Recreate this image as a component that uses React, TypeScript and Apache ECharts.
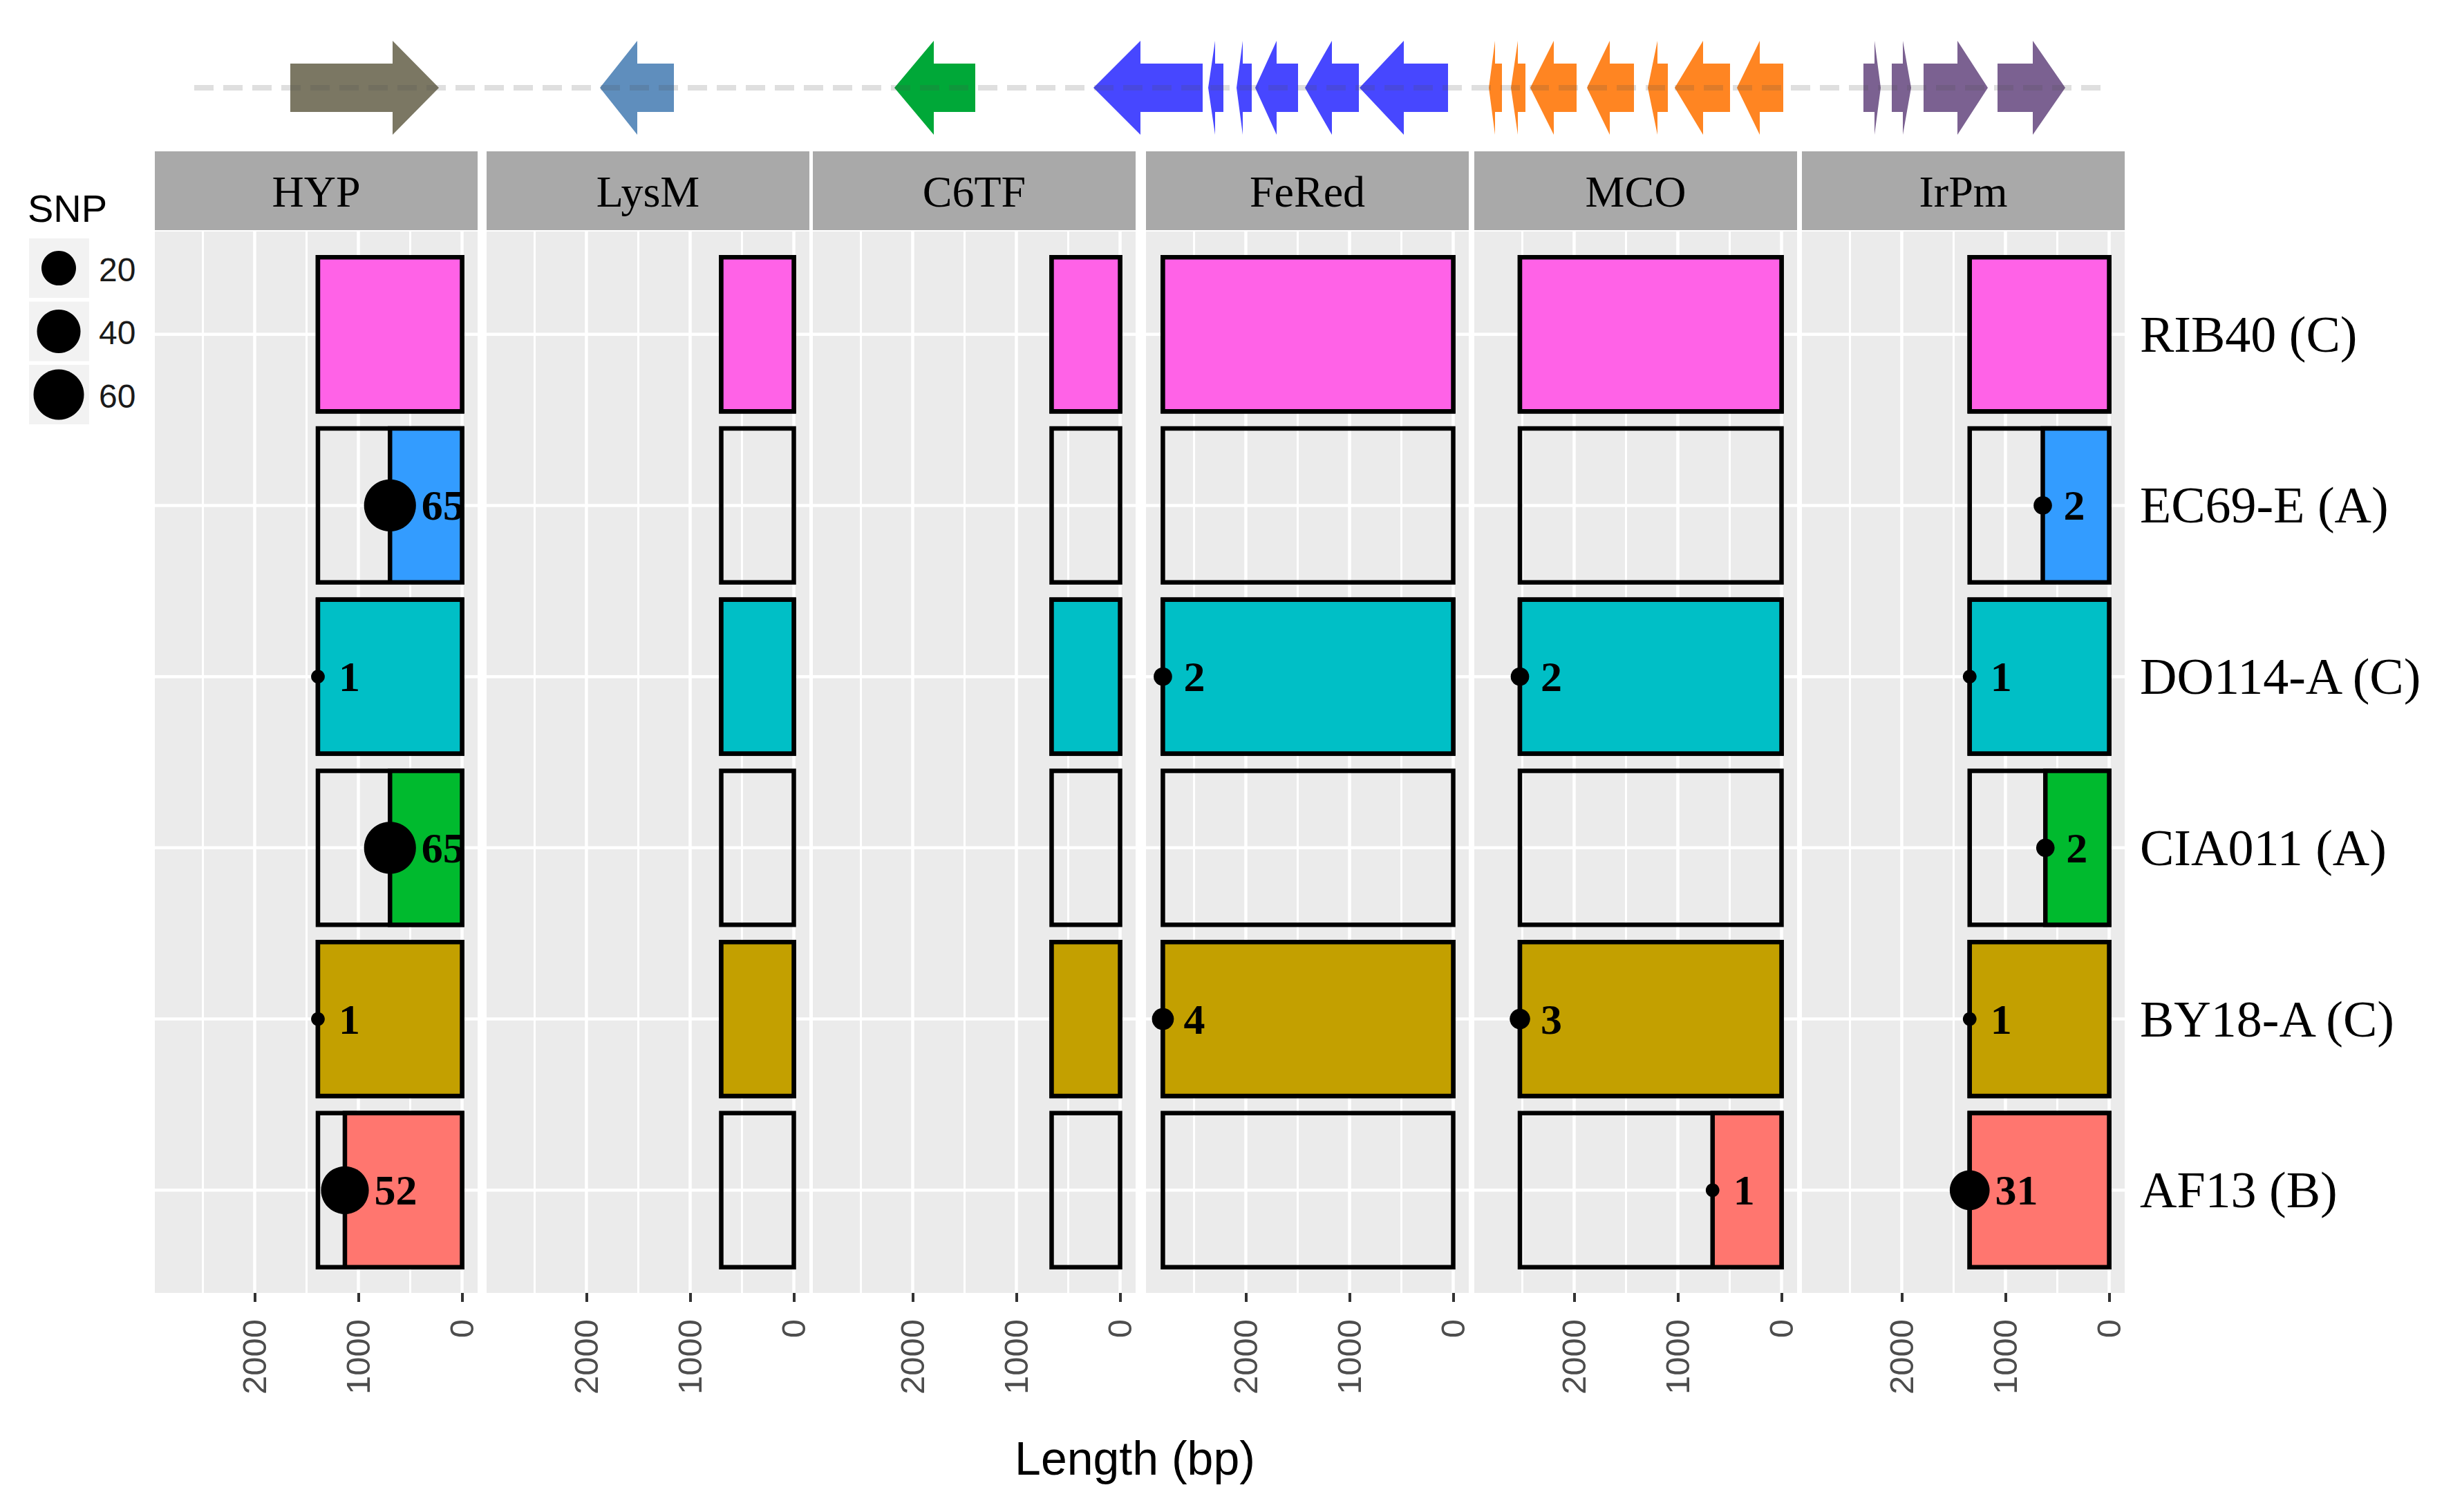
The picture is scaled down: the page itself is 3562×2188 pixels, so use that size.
import React, { useEffect, useRef } from 'react';
import * as echarts from 'echarts';

// ---------------- DATA ----------------
const genes = ['HYP', 'LysM', 'C6TF', 'FeRed', 'MCO', 'IrPm'];
const strains = ['RIB40 (C)', 'EC69-E (A)', 'DO114-A (C)', 'CIA011 (A)', 'BY18-A (C)', 'AF13 (B)'];
const strainColors = ['#FF62E7', '#339CFF', '#00BFC6', '#00BA2E', '#C3A000', '#FF766F'];

// full gene length (bp), one per gene
const geneLength = [1390, 700, 660, 2800, 2523, 1345];

// aligned (coloured) length per strain, 0 = no coloured block
const alignedHYP = [1390, 695, 1390, 695, 1390, 1130];
const alignedLysM = [700, 0, 700, 0, 700, 0];
const alignedC6TF = [660, 0, 660, 0, 660, 0];
const alignedFeRed = [2800, 0, 2800, 0, 2800, 0];
const alignedMCO = [2523, 0, 2523, 0, 2523, 665];
const alignedIrPm = [1345, 640, 1345, 615, 1345, 1345];

// SNP counts per strain, 0 = no point (point sits at the aligned boundary)
const snpHYP = [0, 65, 1, 65, 1, 52];
const snpLysM = [0, 0, 0, 0, 0, 0];
const snpC6TF = [0, 0, 0, 0, 0, 0];
const snpFeRed = [0, 0, 2, 0, 4, 0];
const snpMCO = [0, 0, 2, 0, 3, 1];
const snpIrPm = [0, 2, 1, 2, 1, 31];

const aligned = [alignedHYP, alignedLysM, alignedC6TF, alignedFeRed, alignedMCO, alignedIrPm];
const snps = [snpHYP, snpLysM, snpC6TF, snpFeRed, snpMCO, snpIrPm];

const majorBreaks = [0, 1000, 2000];
const minorBreaks = [500, 1500, 2500];
const legendValues = [20, 40, 60];

// gene-cluster arrows (positions along locus, arbitrary units)
const arrowCluster = [0, 1, 2, 3, 3, 3, 3, 3, 3, 4, 4, 4, 4, 4, 4, 4, 5, 5, 5, 5];
const arrowTail = [139, 694, 1130, 1459, 1489, 1530, 1597, 1685, 1814, 1892, 1926, 2000, 2083, 2132, 2222, 2299, 2415, 2456, 2502, 2609];
const arrowNeck = [287, 641, 1070, 1369, 1477, 1517, 1566, 1646, 1750, 1882, 1915, 1967, 2048, 2117, 2183, 2265, 2431, 2472, 2551, 2660];
const arrowTip = [354, 587, 1013, 1301, 1467, 1508, 1535, 1607, 1686, 1873, 1905, 1933, 2015, 2103, 2142, 2232, 2440, 2484, 2595, 2707];
const clusterColors = ['#7B7763', '#5F8EBD', '#00A838', '#4747FF', '#FF8522', '#7B6191'];
const locusLength = 2760;

// ---------------- LAYOUT ----------------
const panelLefts = [224, 704, 1176, 1658, 2133, 2607];
const panelW = 467;
const panelTop = 335;
const panelH = 1536;
const stripTop = 219;
const stripH = 114;
const X_MIN = -150;
const X_MAX = 2963;
const Y_MIN = 0.4;
const Y_MAX = 6.6;

const SERIF = 'Liberation Serif';
const SANS = 'Liberation Sans';

// ggplot-like area size scale (range of SNP counts 1..65)
function snpSize(n: number) {
  return 19.8 + 55.4 * Math.sqrt(Math.max(0, n - 1) / 64);
}

function buildOption() {
  const grid: any[] = [];
  const xAxis: any[] = [];
  const yAxis: any[] = [];
  const series: any[] = [];
  const graphic: any[] = [];

  genes.forEach((g, i) => {
    grid.push({
      left: panelLefts[i], top: panelTop, width: panelW, height: panelH,
      show: true, backgroundColor: '#EBEBEB', borderWidth: 0,
    });
    xAxis.push({
      type: 'value', gridIndex: i, inverse: true, min: X_MIN, max: X_MAX,
      axisLine: { show: false },
      splitLine: { show: false },
      axisTick: { show: true, customValues: majorBreaks, length: 13, lineStyle: { color: '#333333', width: 4 } },
      axisLabel: {
        show: true, customValues: majorBreaks, rotate: 90, margin: 38,
        formatter: (v: number) => String(v),
        fontSize: 49, color: '#4D4D4D', fontFamily: SANS,
      },
    });
    const isLast = i === genes.length - 1;
    yAxis.push({
      type: 'value', gridIndex: i, inverse: true, min: Y_MIN, max: Y_MAX,
      position: 'right',
      axisLine: { show: false },
      axisTick: { show: false },
      splitLine: { show: false },
      axisLabel: isLast
        ? {
            show: true,
            customValues: strains.map((_, k) => k + 1),
            formatter: (v: number) => strains[Math.round(v) - 1] ?? '',
            margin: 22, fontSize: 74, color: '#000', fontFamily: SERIF,
          }
        : { show: false },
    });

    // grid lines
    const gridData: any[] = [];
    minorBreaks.forEach((v) => gridData.push([v, 0, 3]));
    majorBreaks.forEach((v) => gridData.push([v, 0, 4.5]));
    strains.forEach((_, k) => gridData.push([k + 1, 1, 4.5]));
    series.push({
      type: 'custom', xAxisIndex: i, yAxisIndex: i, z: 1, silent: true,
      data: gridData,
      renderItem: (params: any, api: any) => {
        const v = api.value(0);
        const horiz = api.value(1) === 1;
        const w = api.value(2);
        const a = horiz ? api.coord([X_MIN, v]) : api.coord([v, Y_MIN]);
        const b = horiz ? api.coord([X_MAX, v]) : api.coord([v, Y_MAX]);
        return {
          type: 'line',
          shape: { x1: a[0], y1: a[1], x2: b[0], y2: b[1] },
          style: { stroke: '#FFFFFF', lineWidth: w },
        };
      },
    });

    // gene boxes
    const rectData: any[] = [];
    strains.forEach((_, s) => rectData.push([geneLength[i], s + 1, 0]));
    strains.forEach((_, s) => {
      if (aligned[i][s] > 0) rectData.push([aligned[i][s], s + 1, 1]);
    });
    series.push({
      type: 'custom', xAxisIndex: i, yAxisIndex: i, z: 2, silent: true,
      data: rectData,
      renderItem: (params: any, api: any) => {
        const len = api.value(0);
        const row = api.value(1);
        const kind = api.value(2);
        const a = api.coord([0, row - 0.45]);
        const b = api.coord([len, row + 0.45]);
        return {
          type: 'rect',
          shape: {
            x: Math.min(a[0], b[0]), y: Math.min(a[1], b[1]),
            width: Math.abs(a[0] - b[0]), height: Math.abs(a[1] - b[1]),
          },
          style: {
            fill: kind ? strainColors[row - 1] : 'none',
            stroke: '#000000', lineWidth: 6.5,
          },
        };
      },
    });

    // SNP points
    const ptData: any[] = [];
    strains.forEach((_, s) => {
      const n = snps[i][s];
      if (n > 0) {
        const r = snpSize(n) / 2;
        ptData.push({ value: [aligned[i][s], s + 1, n], label: { distance: Math.max(30, r + 8) - r } });
      }
    });
    series.push({
      type: 'scatter', xAxisIndex: i, yAxisIndex: i, z: 4, silent: true,
      data: ptData,
      symbol: 'circle',
      symbolSize: (v: number[]) => snpSize(v[2]),
      itemStyle: { color: '#000000', opacity: 1 },
      emphasis: { disabled: true },
      label: {
        show: true, position: 'right',
        formatter: (p: any) => String(p.value[2]),
        fontFamily: SERIF, fontWeight: 'bold', fontSize: 62, color: '#000',
      },
    });

    // strip
    graphic.push({
      type: 'rect', left: panelLefts[i], top: stripTop,
      shape: { width: panelW, height: stripH },
      style: { fill: '#A9A9A9' }, silent: true,
    });
    graphic.push({
      type: 'text', x: panelLefts[i] + panelW / 2, y: stripTop + stripH / 2 + 1,
      style: { text: g, fontSize: 64, fontFamily: SERIF, fill: '#000', align: 'center', verticalAlign: 'middle' },
      silent: true,
    });
  });

  // arrow grid
  const ag = genes.length;
  grid.push({ left: 281, top: 39, width: 2760, height: 176, show: false });
  xAxis.push({ type: 'value', gridIndex: ag, min: 0, max: locusLength, show: false });
  yAxis.push({ type: 'value', gridIndex: ag, min: 0, max: 2, show: false });
  series.push({
    type: 'custom', xAxisIndex: ag, yAxisIndex: ag, z: 2, silent: true,
    data: arrowTail.map((t, k) => [t, arrowNeck[k], arrowTip[k], arrowCluster[k]]),
    renderItem: (params: any, api: any) => {
      const t = api.coord([api.value(0), 1]);
      const n = api.coord([api.value(1), 1]);
      const p = api.coord([api.value(2), 1]);
      const cy = t[1];
      const bh = 35;
      const hh = 68;
      return {
        type: 'polygon',
        shape: {
          points: [
            [t[0], cy - bh], [n[0], cy - bh], [n[0], cy - hh], [p[0], cy],
            [n[0], cy + hh], [n[0], cy + bh], [t[0], cy + bh],
          ],
        },
        style: { fill: clusterColors[api.value(3)] },
      };
    },
  });
  series.push({
    type: 'line', xAxisIndex: ag, yAxisIndex: ag, z: 5, silent: true,
    data: [[0, 1], [locusLength, 1]],
    symbol: 'none',
    lineStyle: { color: 'rgba(80,80,80,0.18)', width: 8, type: [28, 14] },
    emphasis: { disabled: true },
  });

  // size legend
  graphic.push({
    type: 'text', x: 40, y: 301,
    style: { text: 'SNP', fontSize: 56, fontFamily: SANS, fill: '#000', align: 'left', verticalAlign: 'middle' },
    silent: true,
  });
  legendValues.forEach((v, k) => {
    const cy = 388 + k * 91.5;
    graphic.push({ type: 'rect', shape: { x: 42, y: cy - 43, width: 87, height: 86 }, style: { fill: '#F2F2F2' }, silent: true });
    graphic.push({ type: 'circle', shape: { cx: 85, cy, r: snpSize(v) / 2 }, style: { fill: '#000' }, silent: true });
    graphic.push({
      type: 'text', x: 143, y: cy + 2,
      style: { text: String(v), fontSize: 48, fontFamily: SANS, fill: '#1A1A1A', align: 'left', verticalAlign: 'middle' },
      silent: true,
    });
  });

  // x axis title
  graphic.push({
    type: 'text', x: 1642, y: 2110,
    style: { text: 'Length (bp)', fontSize: 68, fontFamily: SANS, fill: '#000', align: 'center', verticalAlign: 'middle' },
    silent: true,
  });

  return {
    animation: false,
    backgroundColor: '#FFFFFF',
    grid, xAxis, yAxis, series, graphic,
  };
}

export default function App() {
  const ref = useRef<HTMLDivElement>(null);
  useEffect(() => {
    if (!ref.current) return;
    const chart = echarts.init(ref.current, null, { renderer: 'svg' });
    chart.setOption(buildOption() as any);
    return () => chart.dispose();
  }, []);
  return (
    <div
      ref={ref}
      style={{ position: 'fixed', left: 0, top: 0, width: 3562, height: 2188, background: '#fff' }}
    />
  );
}
